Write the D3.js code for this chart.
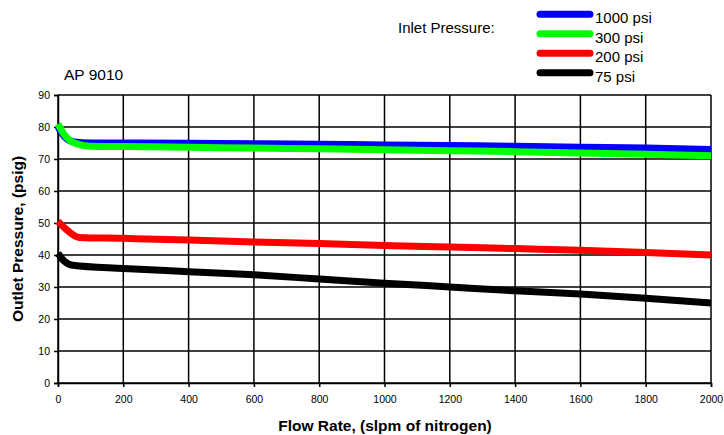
<!DOCTYPE html>
<html>
<head>
<meta charset="utf-8">
<script src="https://cdn.jsdelivr.net/npm/d3@7"></script>
<style>
  body { margin: 0; background: #fff; }
  text { font-family: "Liberation Sans", Arial, sans-serif; fill: #000; }
</style>
</head>
<body>
<svg id="chart"></svg>
<script>
// flow rate (slpm of nitrogen) and outlet pressure (psig) per inlet pressure
let flow = [0, 20, 50, 100, 200, 400, 600, 800, 1000, 1200, 1400, 1600, 1800, 2000];
let p1000 = [80, 77, 75.3, 75, 75, 74.9, 74.8, 74.6, 74.4, 74.2, 74, 73.7, 73.4, 73];
let p300 = [81, 77.5, 75, 74, 73.9, 73.7, 73.4, 73.2, 72.9, 72.6, 72.3, 71.9, 71.5, 71];
let p200Flow = [0, 20, 65, 200, 400, 600, 800, 1000, 1200, 1400, 1600, 1800, 2000];
let p200 = [50.5, 48.5, 45.5, 45.2, 44.7, 44.1, 43.6, 43, 42.5, 42, 41.5, 40.8, 40];
let p75Flow = [0, 20, 45, 200, 400, 600, 800, 1000, 1200, 1400, 1600, 1800, 2000];
let p75 = [40.5, 38, 36.8, 35.8, 34.8, 33.8, 32.5, 31.2, 30, 28.8, 27.8, 26.5, 25];

let seriesNames = ["1000 psi", "300 psi", "200 psi", "75 psi"];
let seriesColors = ["#0000ff", "#00ff00", "#ff0000", "#000000"];
let xTicks = [0, 200, 400, 600, 800, 1000, 1200, 1400, 1600, 1800, 2000];
let yTicks = [0, 10, 20, 30, 40, 50, 60, 70, 80, 90];

function drawChart() {
    let w = 724, h = 435;
    let svg = d3.select("#chart").attr("width", w).attr("height", h);

    let x = d3.scaleLinear().domain([0, 2000]).range([58, 711]);
    let y = d3.scaleLinear().domain([0, 90]).range([383, 95]);

    // grid
    svg.append("g").selectAll("line")
        .data(yTicks)
        .enter().append("line")
        .attr("x1", x(0)).attr("x2", x(2000))
        .attr("y1", d => y(d)).attr("y2", d => y(d))
        .attr("stroke", "#000").attr("stroke-width", 1.5);
    svg.append("g").selectAll("line")
        .data(xTicks)
        .enter().append("line")
        .attr("y1", y(0)).attr("y2", y(90))
        .attr("x1", d => x(d)).attr("x2", d => x(d))
        .attr("stroke", "#000").attr("stroke-width", 1.5);

    // axes
    let xAxis = svg.append("g")
        .attr("transform", `translate(0,${y(0)})`)
        .call(d3.axisBottom(x).tickValues(xTicks).tickFormat(d3.format("d")).tickSize(4).tickPadding(9));
    let yAxis = svg.append("g")
        .attr("transform", `translate(${x(0)},0)`)
        .call(d3.axisLeft(y).tickValues(yTicks).tickFormat(d3.format("d")).tickSize(4).tickPadding(4));
    [xAxis, yAxis].forEach(a => {
        a.select(".domain").attr("stroke-width", 1.5);
        a.selectAll(".tick line").attr("stroke-width", 1.5);
        a.selectAll("text").attr("font-size", 10.5).attr("font-family", "Liberation Sans, Arial, sans-serif");
    });

    // curves
    let allData = [
        [flow, p1000], [flow, p300], [p200Flow, p200], [p75Flow, p75]
    ];
    let line = d3.line()
        .x(d => x(d[0]))
        .y(d => y(d[1]))
        .curve(d3.curveMonotoneX);
    allData.forEach((s, i) => {
        let pts = s[0].map((f, j) => [f, s[1][j]]);
        svg.append("path")
            .datum(pts)
            .attr("d", line)
            .attr("fill", "none")
            .attr("stroke", seriesColors[i])
            .attr("stroke-width", 7)
            .attr("stroke-linejoin", "round");
    });

    // labels
    svg.append("text")
        .attr("x", 64).attr("y", 80)
        .attr("font-size", 15.5)
        .text("AP 9010");

    svg.append("text")
        .attr("x", 385).attr("y", 431)
        .attr("text-anchor", "middle")
        .attr("font-size", 15.5)
        .attr("font-weight", "bold")
        .text("Flow Rate, (slpm of nitrogen)");

    svg.append("text")
        .attr("transform", `translate(23,239) rotate(-90)`)
        .attr("text-anchor", "middle")
        .attr("font-size", 15.5)
        .attr("font-weight", "bold")
        .text("Outlet Pressure, (psig)");

    // legend
    svg.append("text")
        .attr("x", 398).attr("y", 33)
        .attr("font-size", 15)
        .text("Inlet Pressure:");

    let legend = svg.append("g").selectAll("g")
        .data(seriesNames)
        .enter().append("g")
        .attr("transform", (d, i) => `translate(0,${14.3 + i * 19.5})`);
    legend.append("line")
        .attr("x1", 540).attr("x2", 590)
        .attr("y1", 0).attr("y2", 0)
        .attr("stroke", (d, i) => seriesColors[i])
        .attr("stroke-width", 7)
        .attr("stroke-linecap", "round");
    legend.append("text")
        .attr("x", 595).attr("y", 9)
        .attr("font-size", 15)
        .text(d => d);
}

window.onload = function() {
    drawChart();
}
</script>
</body>
</html>
